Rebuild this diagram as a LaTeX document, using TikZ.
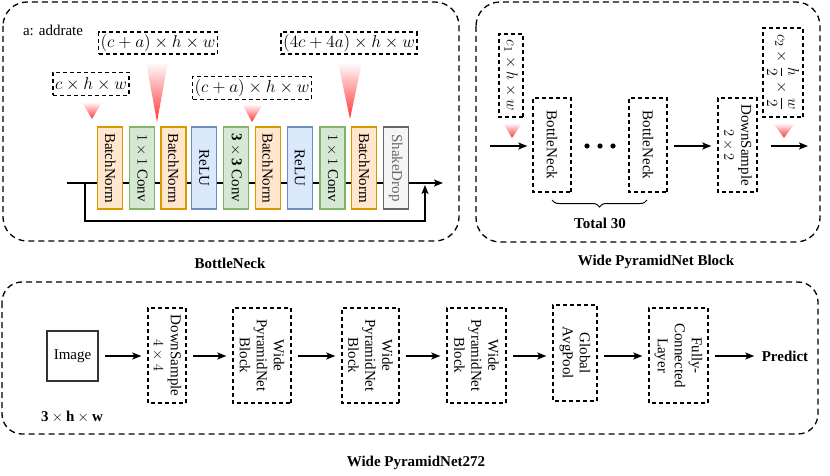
\documentclass[tikz,border=0pt]{standalone}
\usepackage{amsmath}
\usepackage{fontspec}
\setmainfont{Liberation Serif}
\usetikzlibrary{arrows.meta,decorations.pathreplacing,calc}
\definecolor{bnfill}{HTML}{FFE6CC}\definecolor{bndraw}{HTML}{D79B00}
\definecolor{cvfill}{HTML}{D5E8D4}\definecolor{cvdraw}{HTML}{82B366}
\definecolor{rlfill}{HTML}{DAE8FC}\definecolor{rldraw}{HTML}{6C8EBF}
\definecolor{sdfill}{HTML}{F5F5F5}\definecolor{sddraw}{HTML}{666666}
\definecolor{sdtext}{HTML}{666666}
\definecolor{tipred}{HTML}{FF3333}
\definecolor{imgdraw}{HTML}{333333}
\newcommand{\mymathlbl}[1]{\scalebox{1.2}{$#1$}}
\newcommand{\mymathsml}[1]{\scalebox{1.08}{$#1$}}
\tikzset{
  x=1pt,y=-1pt,
  every node/.style={font=\fontsize{15}{17}\selectfont},
  panel/.style={draw,dashed,dash pattern=on 6pt off 4pt,line width=1.3pt},
  blk/.style={draw,line width=1.1pt,rotate=-90,minimum width=82pt,minimum height=25pt,inner sep=1pt},
  bn/.style={blk,fill=bnfill,draw=bndraw},
  cv/.style={blk,fill=cvfill,draw=cvdraw},
  rl/.style={blk,fill=rlfill,draw=rldraw},
  sd/.style={blk,fill=sdfill,draw=sddraw,text=sdtext},
  dbox/.style={draw,dashed,dash pattern=on 4pt off 3pt,line width=1.4pt,inner sep=2pt,align=center},
  vbox/.style={dbox,rotate=-90},
  arr/.style={line width=1.3pt,-{Stealth[length=9pt,width=7pt,inset=2pt]}},
  tri/.style={top color=white,bottom color=tipred,draw=none},
  ttl/.style={font=\fontsize{15}{17}\selectfont\bfseries}
}
\begin{document}
\begin{tikzpicture}
\useasboundingbox (0,0) rectangle (830,476);
% panels
\draw[panel,rounded corners=24pt] (3,2) rectangle (459,241);
\draw[panel,rounded corners=24pt] (476,2) rectangle (820,242);
\draw[panel,rounded corners=20pt] (2,282) rectangle (818,434);
% ---------- BottleNeck ----------
\node (addr) at (53,30) {a: addrate};
\coordinate (bin) at (67,183);
\coordinate (bout) at (443,183);
\coordinate (split) at (85,183);
\coordinate (join) at (425,183);
\draw[arr] (bin) -- (bout);
\draw[arr] (split) -- ++(0,38) -| ($(join)+(0,2)$);
\node[bn] (b1) at (110.2,168) {BatchNorm};
\node[cv] (b2) at (142,168) {$1\times1$ Conv};
\node[bn] (b3) at (173.5,168) {BatchNorm};
\node[rl] (b4) at (204.2,168) {ReLU};
\node[cv] (b5) at (236.2,168) {$\mathbf{3}\times\mathbf{3}$ Conv};
\node[bn] (b6) at (267.8,168) {BatchNorm};
\node[rl] (b7) at (299.8,168) {ReLU};
\node[cv] (b8) at (332.5,168) {$1\times1$ Conv};
\node[bn] (b9) at (364.2,168) {BatchNorm};
\node[sd] (b10) at (395.8,168) {ShakeDrop};
% size labels
\node[dbox,minimum height=23pt,minimum width=76pt] (l1) at (91,84) {\mymathlbl{c\times h\times w}};
\node[dbox,minimum height=22pt,minimum width=109pt] (l2) at (158,43) {\mymathlbl{(c+a)\times h\times w}};
\node[dbox,minimum height=23pt,minimum width=109pt] (l3) at (252,88) {\mymathlbl{(c+a)\times h\times w}};
\node[dbox,minimum height=22pt,minimum width=127pt] (l4) at (349,43) {\mymathlbl{(4c+4a)\times h\times w}};
\shade[tri] (82,102) -- (102,102) -- (92,119) -- cycle;
\shade[tri] (146,62) -- (168,62) -- (157,122) -- cycle;
\shade[tri] (242,104) -- (263,104) -- (252,122) -- cycle;
\shade[tri] (338,62) -- (362,62) -- (350,119) -- cycle;
\node[ttl] (t1) at (230,263) {BottleNeck};
% ---------- Wide PyramidNet Block ----------
\node[vbox,minimum width=83pt,minimum height=24pt,inner sep=1pt] (c1) at (511,75.5) {\mymathsml{c_1\times h\times w}};
\node[vbox,minimum width=94pt,minimum height=38pt] (w1) at (552,145) {BottleNeck};
\node[vbox,minimum width=94pt,minimum height=38pt] (w2) at (648,145) {BottleNeck};
\node[vbox,minimum width=94pt,minimum height=39pt] (ds2) at (737.5,145) {DownSample\\$2\times2$};
\node[vbox,minimum width=89pt,minimum height=40pt,inner sep=1pt] (c2) at (783,72.5) {\mymathsml{c_2\times\dfrac{h}{2}\times\dfrac{w}{2}}};
\coordinate (win) at (490,146);
\coordinate (wout) at (808,146);
\draw[arr,shorten >=5pt] (win) -- (w1.south |- win);
\draw[arr,shorten <=6pt,shorten >=6pt] (w2.north |- win) -- (ds2.south |- win);
\draw[arr,shorten <=13pt] (ds2.north |- wout) -- (wout);
\foreach \xx in {587,600,613} \fill (\xx,146) circle (2.6pt);
\shade[tri] (503,123) -- (522,123) -- (512,138) -- cycle;
\shade[tri] (773,123) -- (795,123) -- (784,138) -- cycle;
\draw[line width=1pt,decorate,decoration={brace,mirror,amplitude=7pt}] (552,200) -- (647,200);
\node[ttl] (tot) at (600,223) {Total 30};
\node[ttl] (t2) at (656,262) {Wide PyramidNet Block};
% ---------- Wide PyramidNet272 ----------
\node[draw=imgdraw,line width=1.2pt,minimum width=51pt,minimum height=50pt] (img) at (72.5,356) {Image};
\node[vbox,minimum width=95pt,minimum height=38pt] (ds4) at (167,355.5) {DownSample\\$4\times4$};
\node[vbox,minimum width=95pt,minimum height=58pt] (p1) at (262,355.5) {Wide\\PyramidNet\\Block};
\node[vbox,minimum width=95pt,minimum height=57pt] (p2) at (370.5,355.5) {Wide\\PyramidNet\\Block};
\node[vbox,minimum width=95pt,minimum height=59pt] (p3) at (476.5,355.5) {Wide\\PyramidNet\\Block};
\node[vbox,minimum width=96pt,minimum height=44pt] (gap) at (575,353) {Global\\AvgPool};
\node[vbox,minimum width=95pt,minimum height=59pt] (fc) at (678.5,355.5) {Fully-\\Connected\\Layer};
\node[ttl] (pred) at (785,356) {Predict};
\node (dim) at (72,417) {$\mathbf{3\times h\times w}$};
\draw[arr,shorten <=6pt,shorten >=6pt] (img.east) -- (ds4.south |- img.east);
\draw[arr,shorten <=6pt,shorten >=6pt] (ds4.north |- img.east) -- (p1.south |- img.east);
\draw[arr,shorten <=6pt,shorten >=6pt] (p1.north |- img.east) -- (p2.south |- img.east);
\draw[arr,shorten <=6pt,shorten >=6pt] (p2.north |- img.east) -- (p3.south |- img.east);
\draw[arr,shorten <=6pt,shorten >=6pt] (p3.north |- img.east) -- (gap.south |- img.east);
\draw[arr,shorten <=6pt,shorten >=6pt] (gap.north |- img.east) -- (fc.south |- img.east);
\draw[arr,shorten <=6pt,shorten >=4pt] (fc.north |- img.east) -- (pred.west);
\node[ttl] (t3) at (416,463) {Wide PyramidNet272};
\end{tikzpicture}
\end{document}
